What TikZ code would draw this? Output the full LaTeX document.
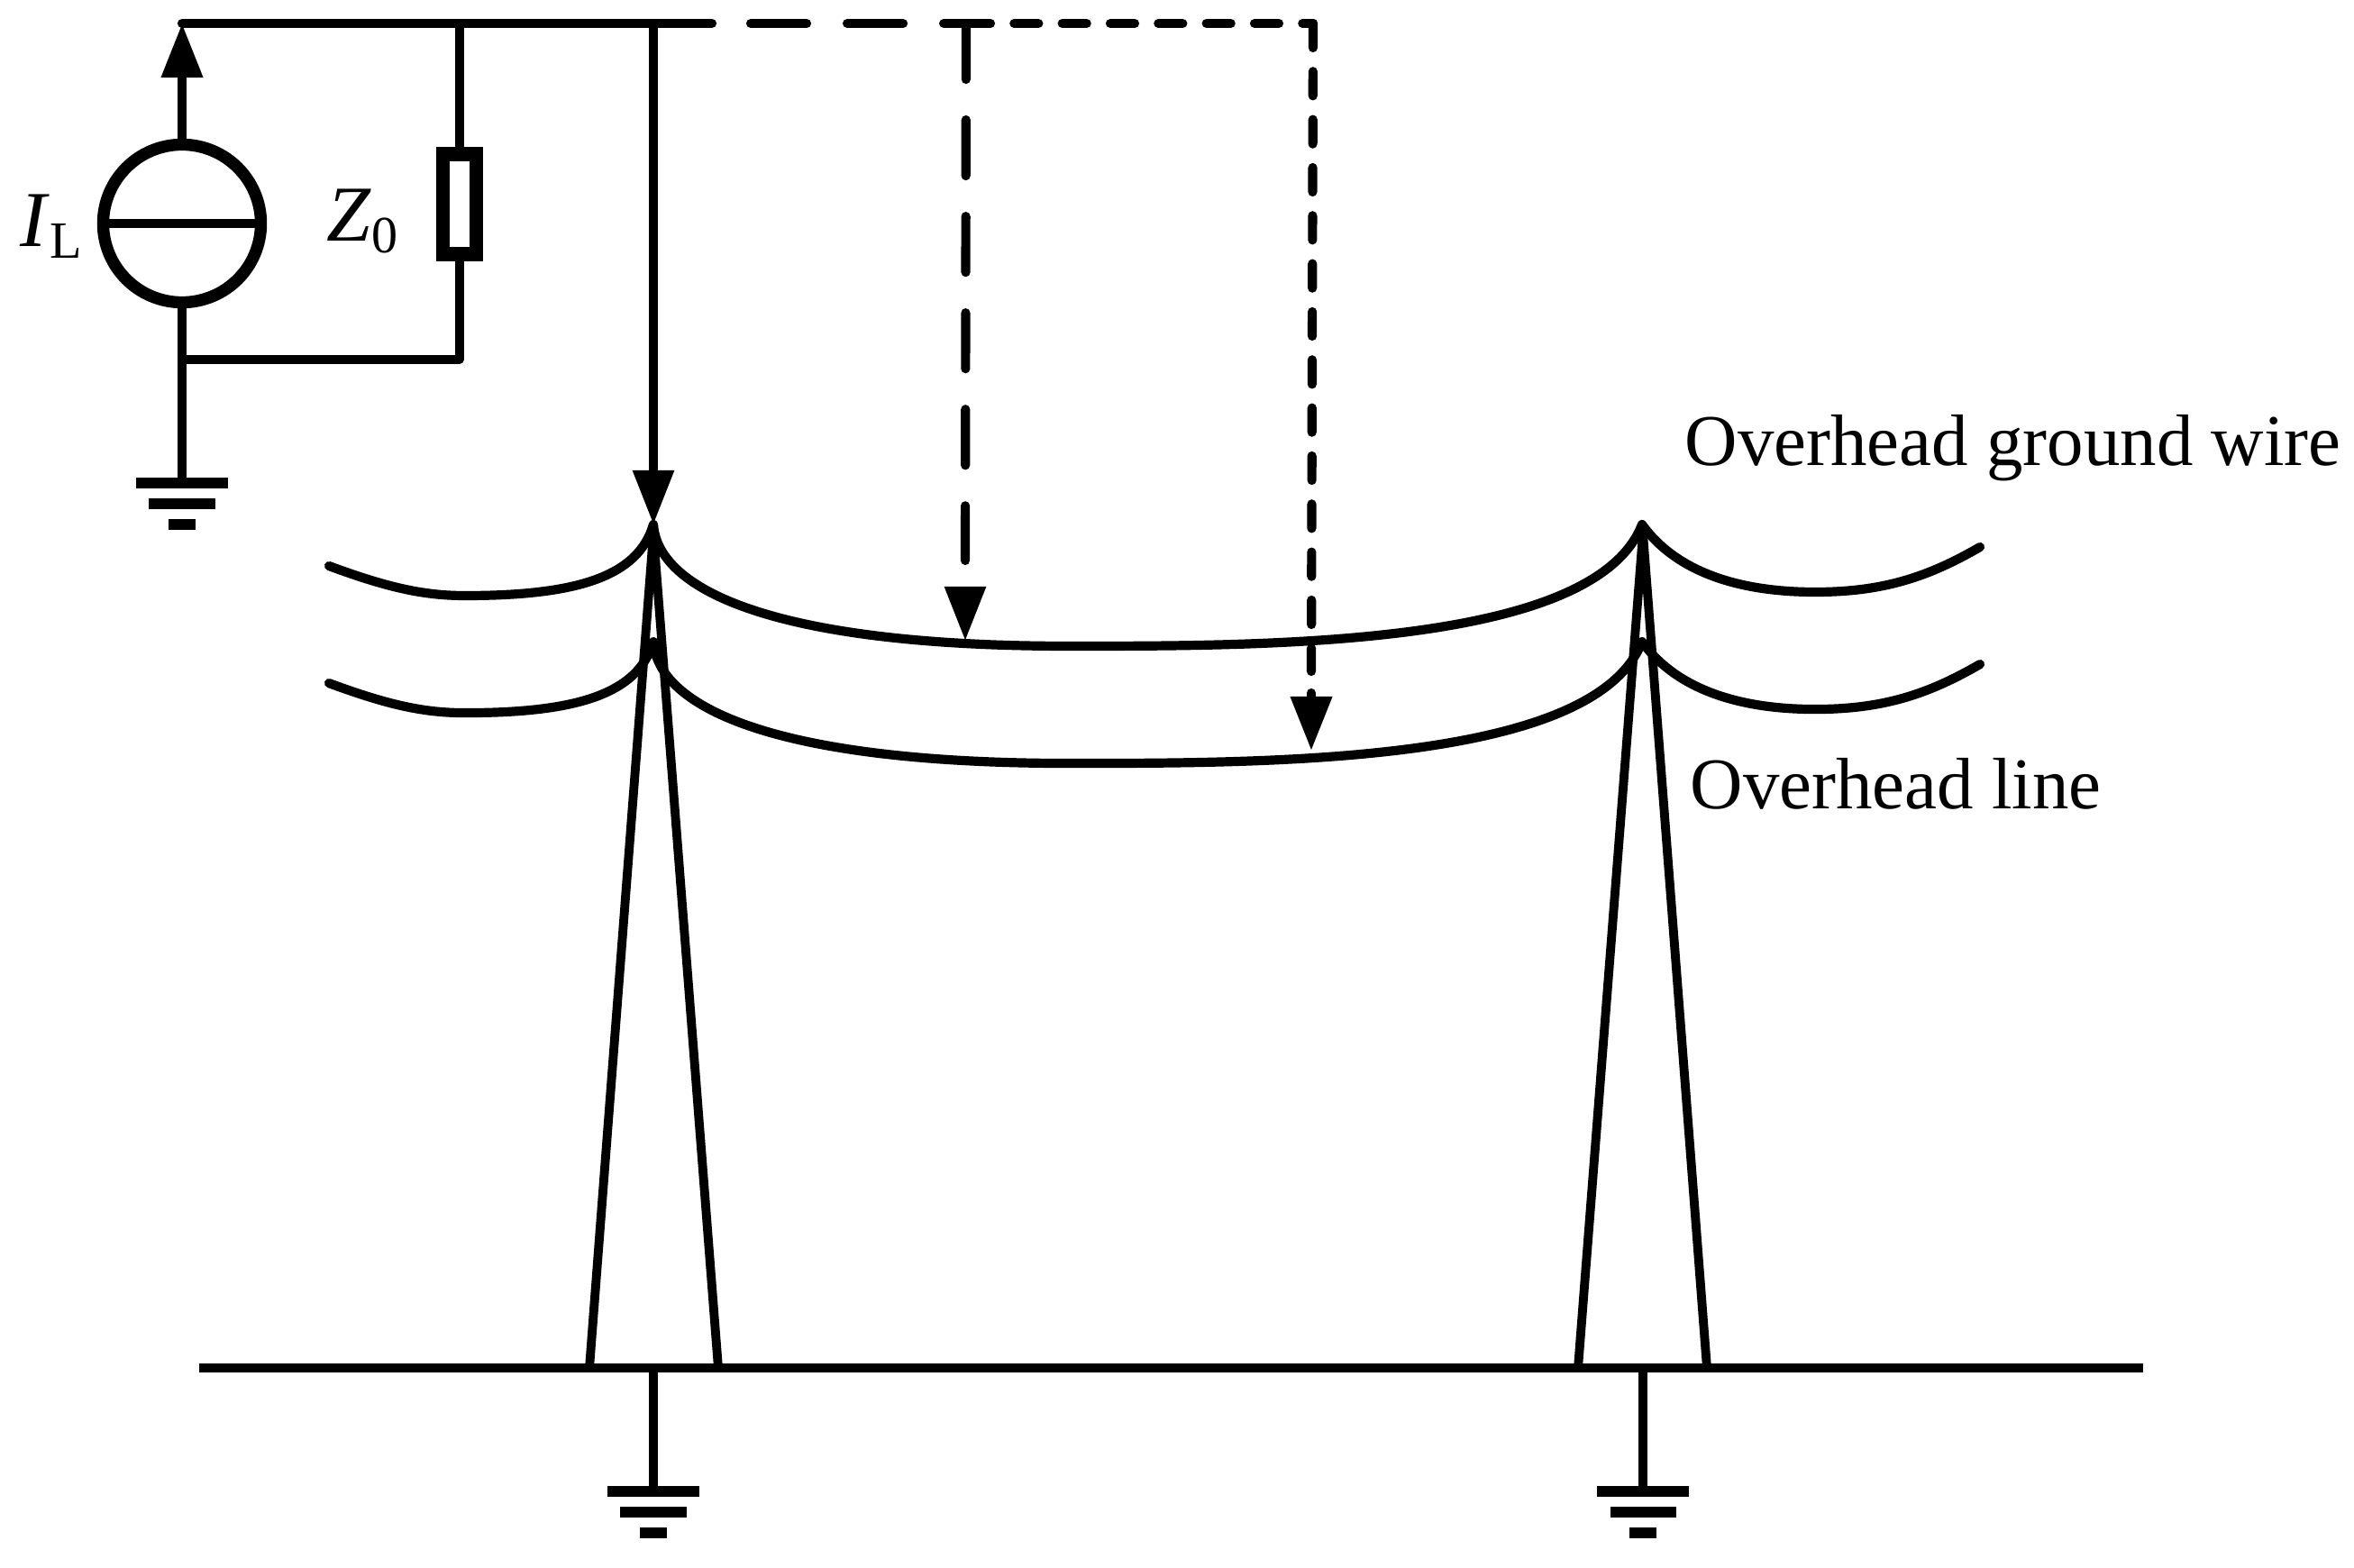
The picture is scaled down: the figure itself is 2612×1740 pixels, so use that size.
\documentclass[tikz,border=0pt]{standalone}
\usepackage{fontspec}
\setmainfont{Liberation Serif}
\usepackage{tikz}
\usetikzlibrary{arrows.meta, calc, positioning}

\tikzset{
    wire/.style={line width=2.9pt, line cap=round, line join=round},
    thin wire/.style={line width=2.6pt},
    loadbox/.style={draw, line width=4.5pt, minimum width=0.37cm, minimum height=1.11cm, inner sep=0pt, outer sep=0pt},
    srcnode/.style={draw, circle, line width=3.8pt, minimum size=1.75cm, inner sep=0pt, outer sep=0pt},
    strike/.style={-{Triangle[length=0.6cm, width=0.44cm]}},
    longdash/.style={wire, dash pattern=on 0.62cm off 0.45cm},
    shortdash/.style={wire, dash pattern=on 0.27cm off 0.263cm},
    textlabel/.style={font=\fontsize{23}{26}\selectfont, inner sep=0pt, anchor=base west},
    bar/.style={fill=black, inner sep=0pt, outer sep=0pt, minimum height=0.12cm},
}

\newcommand{\groundsym}[2]{
    \node[bar, minimum width=1.02cm] (#1) at #2 {};
    \node[bar, minimum width=0.73cm, below=0.11cm of #1] (#1b) {};
    \node[bar, minimum width=0.30cm, below=0.11cm of #1b] (#1c) {};
}

\begin{document}
\begin{tikzpicture}[x=0.01cm, y=-0.01cm]
    \useasboundingbox (0,0) rectangle (2612,1740);

    % source branch
    \node[srcnode] (src) at (202,248) {};
    \coordinate (bus) at (202,26);
    \coordinate (busend) at (790,26);
    \coordinate (loadtop) at (510,26);
    \coordinate (loadbot) at (510,399);
    \coordinate (srcbot) at (202,399);
    \draw[thin wire] (src.west) -- (src.east);
    \draw[line width=2.9pt, strike] (src.north) -- (bus);
    \draw[wire] (bus) -- (busend);
    \node[loadbox] (z) at (510,226.5) {};
    \draw[thin wire] (loadtop) -- (z.north);
    \draw[thin wire, line join=round] (z.south) -- (loadbot) -- (srcbot);
    \draw[line width=2.9pt] (src.south) -- (srcbot);
    \groundsym{gsrc}{(202,536)}
    \draw[thin wire] (srcbot) -- (gsrc.north);
    \node[textlabel] (il) at (22,274) {\fontsize{25}{26}\selectfont\textit{I}\raisebox{-0.13cm}{\fontsize{16.5}{16}\selectfont L}};
    \node[textlabel] (zo) at (362,268) {\fontsize{25}{26}\selectfont\textit{Z}\raisebox{-0.126cm}{\fontsize{16.5}{16}\selectfont 0}};

    % strokes
    \coordinate (hit) at (725,26);
    \coordinate (tipa) at (725,582);
    \coordinate (fork) at (1072,26);
    \coordinate (corner) at (1457,26);
    \coordinate (tipb) at (1071,711);
    \coordinate (tipc) at (1455,833);
    \draw[thin wire, strike] (hit) -- (tipa);
    \draw[longdash] (833,26) -- (fork);
    \draw[shortdash] (fork) -- (corner);
    \draw[longdash] (fork) -- (1071,622);
    \draw[thin wire, strike] (1071,660) -- (tipb);
    \draw[shortdash] (corner) -- (1455,745);
    \draw[wire, strike] (1455,769) -- (tipc);

    % wires
    \foreach \dy in {0,-1.3}
        \draw[wire, yshift=\dy cm] (365,628) .. controls (430,652) and (470,661) .. (516,661)
            .. controls (640,661) and (708,640) .. (725,582)
            .. controls (730,655) and (860,717) .. (1187,717)
            .. controls (1420,717) and (1770,716) .. (1822,582)
            .. controls (1860,635) and (1930,657) .. (2014,657)
            .. controls (2090,657) and (2140,640) .. (2197,607);

    % towers
    \draw[thin wire, line width=2.8pt, line join=miter] (654,1518) -- (725,592) -- (797,1518);
    \draw[thin wire, line width=2.8pt, line join=miter] (1751,1518) -- (1823,592) -- (1894,1518);
    \draw[line width=2.85pt] (221,1518) -- (2378,1518);
    \groundsym{gleft}{(725,1655)}
    \groundsym{gright}{(1823,1655)}
    \draw[thin wire] (725,1518) -- (gleft.north);
    \draw[thin wire] (1823,1518) -- (gright.north);

    \node[textlabel] (ogw) at (1869,517) {Overhead ground wire};
    \node[textlabel] (ol) at (1875,897) {Overhead line};
\end{tikzpicture}
\end{document}
